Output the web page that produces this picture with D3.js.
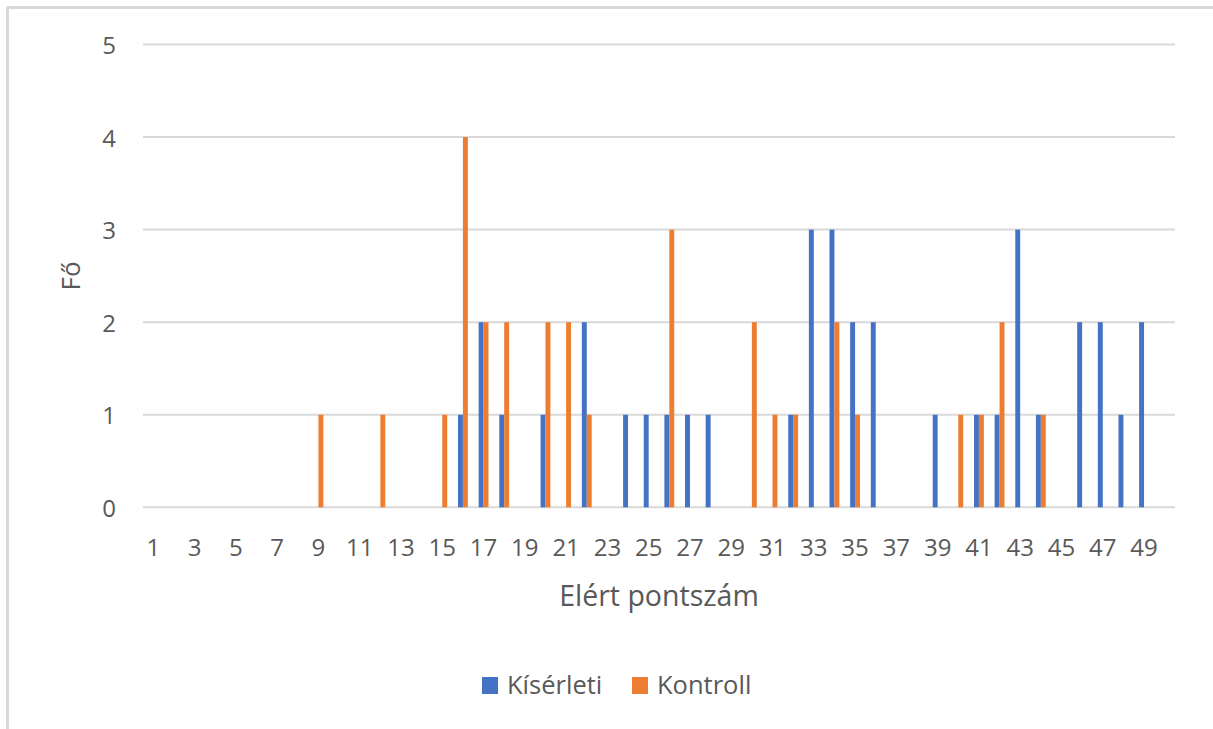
<!DOCTYPE html>
<html>
<head>
<meta charset="utf-8">
<script src="https://cdn.jsdelivr.net/npm/d3@7"></script>
<style>
  html, body { margin: 0; padding: 0; background: #fff; }
  svg { display: block; }
  text { font-family: "Open Sans", "Noto Sans", sans-serif; fill: #595959; }
</style>
</head>
<body>
<svg id="chart" width="1213" height="729"></svg>
<script>
// Score categories (1..50) and the number of students per score in each group
const scores = d3.range(1, 51);
const seriesNames = ["Kísérleti", "Kontroll"];
const kiserleti = [
  0, 0, 0, 0, 0, 0, 0, 0, 0, 0,
  0, 0, 0, 0, 0, 1, 2, 1, 0, 1,
  0, 2, 0, 1, 1, 1, 1, 1, 0, 0,
  0, 1, 3, 3, 2, 2, 0, 0, 1, 0,
  1, 1, 3, 1, 0, 2, 2, 1, 2, 0
];
const kontroll = [
  0, 0, 0, 0, 0, 0, 0, 0, 1, 0,
  0, 1, 0, 0, 1, 4, 2, 2, 0, 2,
  2, 1, 0, 0, 0, 3, 0, 0, 0, 2,
  1, 1, 0, 2, 1, 0, 0, 0, 0, 1,
  1, 2, 0, 1, 0, 0, 0, 0, 0, 0
];
const yTicks = [0, 1, 2, 3, 4, 5];
const xTickLabels = scores.filter(s => s % 2 === 1);
const colors = ["#4472C4", "#ED7D31"];

const svg = d3.select("#chart");

// chart frame (top and left edges visible)
svg.append("line").attr("x1", 7).attr("y1", 7.5).attr("x2", 1213).attr("y2", 7.5)
  .attr("stroke", "#d9d9d9").attr("stroke-width", 3);
svg.append("line").attr("x1", 7.5).attr("y1", 7).attr("x2", 7.5).attr("y2", 729)
  .attr("stroke", "#d9d9d9").attr("stroke-width", 3);

const plot = { left: 143, right: 1175, top: 44.5, bottom: 507.3 };

const x0 = d3.scaleBand().domain(scores).range([plot.left, plot.right]).padding(0);
const x1 = d3.scaleBand().domain(seriesNames).range([0, x0.bandwidth()])
  .paddingInner(0).paddingOuter(1.095);
const y = d3.scaleLinear().domain([0, 5]).range([plot.bottom, plot.top]);

// horizontal gridlines
svg.append("g").selectAll("line").data(yTicks).join("line")
  .attr("x1", plot.left).attr("x2", plot.right)
  .attr("y1", d => y(d)).attr("y2", d => y(d))
  .attr("stroke", "#d9d9d9").attr("stroke-width", 2);

// y tick labels
svg.append("g").selectAll("text").data(yTicks).join("text")
  .attr("x", 116).attr("y", d => y(d))
  .attr("text-anchor", "end").attr("dominant-baseline", "central")
  .style("font-size", "24px")
  .text(d => d);

// x tick labels (every second score)
svg.append("g").selectAll("text").data(xTickLabels).join("text")
  .attr("x", d => x0(d) + x0.bandwidth() / 2).attr("y", 546)
  .attr("text-anchor", "middle").attr("dominant-baseline", "central")
  .style("font-size", "24px")
  .text(d => d);

// bars
const series = [kiserleti, kontroll];
series.forEach((vals, si) => {
  svg.append("g").selectAll("rect")
    .data(scores.map((s, i) => ({ s, v: vals[i] })).filter(d => d.v > 0))
    .join("rect")
    .attr("x", d => x0(d.s) + x1(seriesNames[si]))
    .attr("width", x1.bandwidth())
    .attr("y", d => y(d.v))
    .attr("height", d => y(0) - y(d.v))
    .attr("fill", colors[si]);
});

// axis titles
svg.append("text")
  .attr("x", (plot.left + plot.right) / 2).attr("y", 606)
  .attr("text-anchor", "middle")
  .style("font-size", "28.5px")
  .text("Elért pontszám");

svg.append("text")
  .attr("transform", `translate(80, ${(plot.top + plot.bottom) / 2}) rotate(-90)`)
  .attr("text-anchor", "middle")
  .style("font-size", "26px")
  .text("Fő");

// legend
const legend = svg.append("g");
const legendItems = [
  { name: seriesNames[0], color: colors[0], x: 482 },
  { name: seriesNames[1], color: colors[1], x: 632 }
];
legendItems.forEach(it => {
  legend.append("rect").attr("x", it.x).attr("y", 677)
    .attr("width", 16).attr("height", 17).attr("fill", it.color);
  legend.append("text").attr("x", it.x + 25).attr("y", 694)
    .style("font-size", "25.5px").text(it.name);
});
</script>
</body>
</html>
